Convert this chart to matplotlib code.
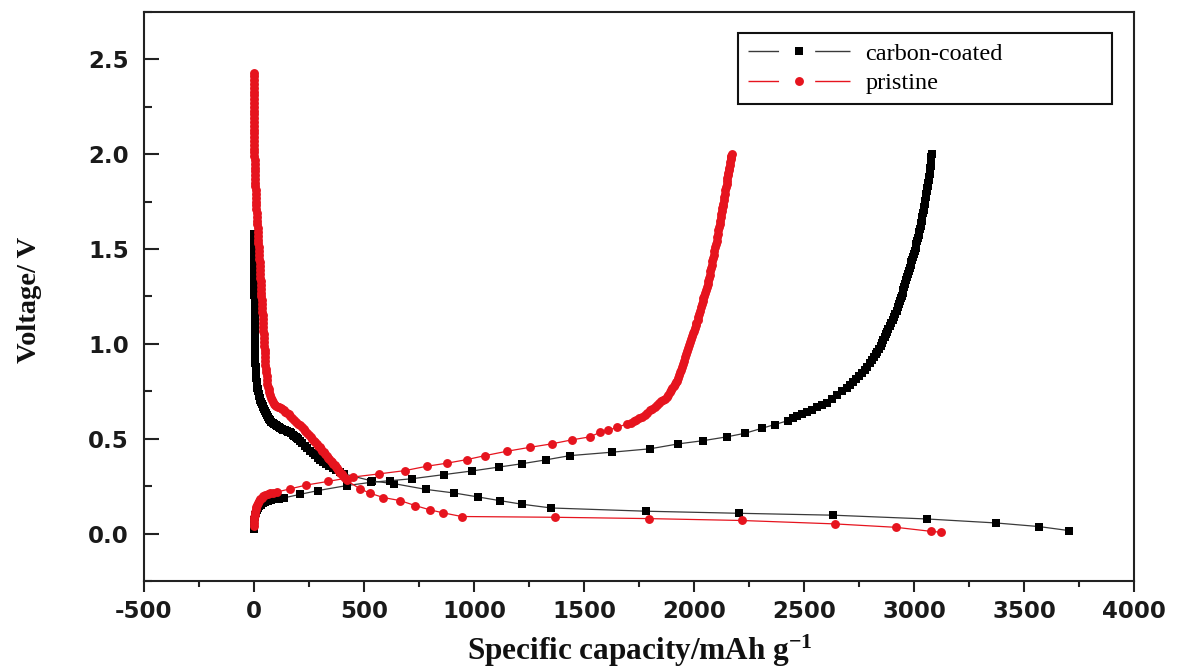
import matplotlib
matplotlib.use("Agg")
import matplotlib.pyplot as plt
from matplotlib.lines import Line2D
from matplotlib.ticker import MultipleLocator

# ---------------- data ----------------
# each series: list of (specific capacity / mAh g-1, voltage / V) points
series_names = ["carbon-coated", "pristine"]

carbon_discharge = [
    (0, 1.58), (0, 1.56), (0, 1.54), (0, 1.52), (0, 1.50), (1, 1.48), (1, 1.46), (1, 1.44), (1, 1.42),
    (1, 1.40), (1, 1.38), (2, 1.36), (2, 1.34), (2, 1.32), (2, 1.30), (2, 1.28), (2, 1.26), (3, 1.24),
    (3, 1.22), (3, 1.20), (3, 1.18), (3, 1.16), (3, 1.14), (4, 1.12), (4, 1.10), (4, 1.08), (4, 1.06),
    (4, 1.04), (4, 1.02), (5, 1.00), (5, 0.98), (5, 0.96), (5, 0.94), (6, 0.92), (6, 0.90), (7, 0.88),
    (8, 0.86), (9, 0.84), (10, 0.82), (12, 0.80), (14, 0.785), (15, 0.77), (17, 0.76), (19, 0.75),
    (21, 0.737), (23, 0.726), (26, 0.715), (29, 0.705), (32, 0.695), (35, 0.685), (39, 0.675),
    (42, 0.665), (46, 0.655), (50, 0.645), (54, 0.635), (58, 0.625), (63, 0.615), (68, 0.606),
    (73, 0.598), (79, 0.59), (85, 0.582), (91, 0.576), (98, 0.570), (105, 0.565), (112, 0.560),
    (119, 0.556), (127, 0.552), (134, 0.548), (142, 0.545), (149, 0.541), (156, 0.538), (163, 0.533),
    (170, 0.528), (177, 0.522), (183, 0.516), (189, 0.51), (195, 0.503), (201, 0.497), (207, 0.490),
    (219, 0.477), (231, 0.464), (243, 0.451), (255, 0.438), (266, 0.425), (277, 0.412), (289, 0.399),
    (301, 0.387), (314, 0.376), (328, 0.366), (343, 0.355), (358, 0.345), (373, 0.335), (389, 0.325),
    (408, 0.315), (537, 0.277), (638, 0.263), (781, 0.233), (910, 0.214), (1019, 0.193),
    (1116, 0.174), (1217, 0.155), (1351, 0.135), (1780, 0.118), (2205, 0.107), (2632, 0.097),
    (3059, 0.077), (3373, 0.056), (3568, 0.037), (3703, 0.016),
]

carbon_charge = [
    (0, 0.025), (0, 0.04), (1, 0.055), (2, 0.07), (4, 0.085), (6, 0.098), (9, 0.11), (13, 0.122),
    (18, 0.133), (24, 0.143), (31, 0.152), (40, 0.16), (50, 0.166), (62, 0.172), (76, 0.177),
    (95, 0.181), (115, 0.184), (135, 0.188), (210, 0.207), (292, 0.227), (421, 0.253), (530, 0.27),
    (620, 0.279), (717, 0.289), (862, 0.311), (990, 0.33), (1115, 0.351), (1216, 0.368),
    (1328, 0.389), (1436, 0.411), (1626, 0.429), (1800, 0.447), (1929, 0.473), (2042, 0.49),
    (2149, 0.51), (2232, 0.529), (2308, 0.555), (2368, 0.575), (2429, 0.596), (2450, 0.607),
    (2470, 0.62), (2491, 0.63), (2512, 0.64), (2535, 0.652), (2558, 0.665), (2580, 0.677),
    (2603, 0.69), (2627, 0.71), (2650, 0.73), (2672, 0.75), (2694, 0.77), (2708, 0.785),
    (2722, 0.80), (2736, 0.815), (2750, 0.83), (2763, 0.845), (2775, 0.86), (2788, 0.88),
    (2800, 0.90), (2809, 0.915), (2818, 0.93), (2826, 0.945), (2833, 0.96), (2841, 0.975),
    (2848, 0.99), (2854, 1.005), (2860, 1.02), (2866, 1.035), (2872, 1.05), (2878, 1.065),
    (2884, 1.08), (2890, 1.095), (2896, 1.11), (2903, 1.125), (2909, 1.14), (2915, 1.158),
    (2921, 1.176), (2926, 1.193), (2931, 1.21), (2936, 1.225), (2940, 1.24), (2944, 1.255),
    (2948, 1.27), (2952, 1.285), (2956, 1.30), (2961, 1.318), (2965, 1.335), (2970, 1.352),
    (2974, 1.37), (2978, 1.385), (2981, 1.40), (2985, 1.415), (2988, 1.43), (2992, 1.445),
    (2996, 1.46), (3000, 1.475), (3003, 1.49), (3007, 1.508), (3011, 1.525), (3015, 1.543),
    (3019, 1.56), (3022, 1.575), (3024, 1.59), (3027, 1.605), (3030, 1.62), (3033, 1.635),
    (3035, 1.65), (3038, 1.67), (3041, 1.69), (3044, 1.705), (3046, 1.72), (3048, 1.738),
    (3050, 1.756), (3053, 1.773), (3055, 1.79), (3058, 1.805), (3060, 1.82), (3063, 1.835),
    (3065, 1.85), (3067, 1.865), (3069, 1.88), (3071, 1.895), (3073, 1.91), (3074, 1.925),
    (3075, 1.94), (3077, 1.955), (3078, 1.97), (3079, 1.985), (3080, 2.00),
]

pristine_discharge = [
    (0, 2.43), (0, 2.41), (0, 2.39), (0, 2.37), (0, 2.35), (0, 2.33), (0, 2.31), (0, 2.29), (0, 2.27),
    (0, 2.25), (0, 2.23), (1, 2.21), (1, 2.19), (1, 2.17), (1, 2.15), (1, 2.13), (1, 2.11), (1, 2.09),
    (1, 2.07), (2, 2.05), (2, 2.03), (2, 2.01), (2, 1.99), (3, 1.97), (3, 1.95), (4, 1.93), (4, 1.91),
    (5, 1.89), (5, 1.87), (6, 1.85), (6, 1.83), (7, 1.81), (8, 1.79), (9, 1.77), (9, 1.75), (10, 1.73),
    (11, 1.71), (12, 1.69), (13, 1.67), (14, 1.65), (15, 1.63), (16, 1.61), (17, 1.59), (18, 1.57),
    (19, 1.55), (20, 1.53), (21, 1.51), (22, 1.49), (23, 1.47), (24, 1.45), (25, 1.43), (26, 1.41),
    (27, 1.39), (28, 1.37), (29, 1.35), (30, 1.33), (31, 1.31), (32, 1.29), (33, 1.27), (34, 1.25),
    (35, 1.23), (36, 1.21), (37, 1.19), (38, 1.17), (39, 1.15), (40, 1.13), (41, 1.11), (42, 1.09),
    (43, 1.07), (44, 1.05), (45, 1.03), (46, 1.01), (47, 0.99), (48, 0.97), (49, 0.95), (50, 0.93),
    (51, 0.91), (52, 0.89), (54, 0.87), (55, 0.85), (57, 0.83), (59, 0.81), (61, 0.79), (63, 0.775),
    (66, 0.76), (69, 0.745), (72, 0.73), (76, 0.717), (80, 0.705), (85, 0.695), (90, 0.685),
    (96, 0.678), (102, 0.672), (108, 0.668), (115, 0.665), (121, 0.66), (128, 0.655), (135, 0.649),
    (142, 0.643), (149, 0.636), (157, 0.628), (165, 0.619), (173, 0.61), (181, 0.6), (190, 0.59),
    (199, 0.58), (209, 0.57), (218, 0.56), (226, 0.55), (234, 0.54), (242, 0.53), (250, 0.52),
    (257, 0.51), (264, 0.50), (271, 0.49), (278, 0.481), (285, 0.473), (292, 0.464), (298, 0.455),
    (305, 0.446), (311, 0.437), (318, 0.428), (324, 0.419), (331, 0.41), (337, 0.401), (343, 0.392),
    (349, 0.384), (355, 0.376), (360, 0.368), (366, 0.36), (371, 0.352), (377, 0.344), (382, 0.336),
    (388, 0.328), (393, 0.32), (399, 0.312), (404, 0.305), (412, 0.292), (421, 0.28), (482, 0.236),
    (527, 0.213), (588, 0.19), (664, 0.174), (732, 0.148), (800, 0.125), (861, 0.109), (944, 0.09),
    (1368, 0.086), (1794, 0.079), (2218, 0.069), (2641, 0.051), (2918, 0.033), (3076, 0.012),
    (3123, 0.007),
]

pristine_charge = [
    (0, 0.04), (0, 0.055), (1, 0.07), (2, 0.085), (3, 0.10), (5, 0.115), (7, 0.128), (10, 0.14),
    (13, 0.152), (17, 0.163), (22, 0.173), (28, 0.182), (35, 0.19), (43, 0.197), (52, 0.203),
    (62, 0.208), (73, 0.212), (86, 0.215), (103, 0.219), (162, 0.235), (238, 0.256), (336, 0.275),
    (449, 0.298), (570, 0.315), (686, 0.332), (785, 0.355), (876, 0.371), (967, 0.39), (1050, 0.411),
    (1149, 0.434), (1255, 0.455), (1353, 0.473), (1444, 0.494), (1527, 0.51), (1573, 0.534),
    (1610, 0.545), (1650, 0.56), (1694, 0.578), (1712, 0.585), (1725, 0.592), (1738, 0.6),
    (1750, 0.607), (1763, 0.616), (1775, 0.625), (1788, 0.637), (1800, 0.649), (1811, 0.658),
    (1822, 0.668), (1832, 0.678), (1842, 0.688), (1851, 0.697), (1860, 0.705), (1868, 0.712),
    (1876, 0.72), (1883, 0.732), (1890, 0.745), (1896, 0.757), (1902, 0.77), (1907, 0.78),
    (1912, 0.79), (1917, 0.8), (1921, 0.807), (1926, 0.821), (1930, 0.835), (1935, 0.85),
    (1939, 0.865), (1944, 0.88), (1948, 0.895), (1953, 0.912), (1957, 0.93), (1962, 0.948),
    (1967, 0.965), (1972, 0.98), (1976, 0.995), (1981, 1.01), (1985, 1.025), (1990, 1.04),
    (1994, 1.055), (1999, 1.07), (2003, 1.085), (2007, 1.098), (2011, 1.11), (2016, 1.125),
    (2020, 1.14), (2024, 1.158), (2028, 1.175), (2032, 1.193), (2036, 1.21), (2040, 1.225),
    (2043, 1.24), (2047, 1.255), (2050, 1.27), (2054, 1.285), (2058, 1.30), (2062, 1.315),
    (2065, 1.33), (2068, 1.348), (2071, 1.365), (2074, 1.383), (2077, 1.40), (2080, 1.418),
    (2083, 1.435), (2086, 1.453), (2089, 1.47), (2093, 1.49), (2096, 1.51), (2100, 1.528),
    (2103, 1.545), (2106, 1.563), (2108, 1.58), (2111, 1.598), (2113, 1.615), (2116, 1.633),
    (2118, 1.65), (2121, 1.668), (2123, 1.685), (2126, 1.7), (2128, 1.715), (2131, 1.728),
    (2133, 1.74), (2136, 1.758), (2138, 1.775), (2141, 1.793), (2143, 1.81), (2146, 1.828),
    (2148, 1.845), (2150, 1.86), (2152, 1.875), (2154, 1.888), (2156, 1.9), (2158, 1.915),
    (2160, 1.93), (2162, 1.945), (2164, 1.96), (2166, 1.973), (2168, 1.985), (2170, 1.993),
    (2171, 2.0),
]

x_ticks = [-500, 0, 500, 1000, 1500, 2000, 2500, 3000, 3500, 4000]
y_ticks = [0.0, 0.5, 1.0, 1.5, 2.0, 2.5]

# ---------------- style ----------------
plt.rcParams["mathtext.fontset"] = "custom"
plt.rcParams["mathtext.rm"] = "Liberation Serif:bold"
plt.rcParams["mathtext.bf"] = "Liberation Serif:bold"
plt.rcParams["mathtext.it"] = "Liberation Serif:bold"
plt.rcParams["lines.scale_dashes"] = False

BLACK = "#000000"
BLACK_LINE = "#3a3a3a"
RED = "#e6141e"


def split(points):
    return [p[0] for p in points], [p[1] for p in points]


fig = plt.figure(figsize=(11.82, 6.70), dpi=100)
ax = fig.add_axes([144 / 1182, 89 / 670, 990 / 1182, 569 / 670])

# carbon-coated (black squares)
for pts in (carbon_discharge, carbon_charge):
    cap, v = split(pts)
    ax.plot(cap, v, color=BLACK_LINE, lw=0.9, marker="s", ms=5.8,
            mfc=BLACK, mec=BLACK, mew=0, zorder=3)
# pristine (red circles)
for pts in (pristine_discharge, pristine_charge):
    cap, v = split(pts)
    ax.plot(cap, v, color=RED, lw=0.9, marker="o", ms=6.4,
            mfc=RED, mec=RED, mew=0, zorder=4)

ax.set_xlim(-500, 4000)
ax.set_ylim(-0.25, 2.75)
ax.set_xticks(x_ticks)
ax.set_yticks(y_ticks)
ax.set_xticklabels([str(t) for t in x_ticks])
ax.set_yticklabels([f"{t:.1f}" for t in y_ticks])
ax.xaxis.set_minor_locator(MultipleLocator(250))
ax.yaxis.set_minor_locator(MultipleLocator(0.25))

for s in ax.spines.values():
    s.set_linewidth(1.5)
    s.set_color("#222222")

ax.tick_params(axis="x", which="major", direction="out", length=8, width=1.5, pad=6,
               labelsize=16.5, colors="#222222")
ax.tick_params(axis="x", which="minor", direction="out", length=4.5, width=1.5, colors="#222222")
ax.tick_params(axis="y", which="major", direction="in", length=11, width=1.5, pad=11,
               labelsize=16.5, colors="#222222")
ax.tick_params(axis="y", which="minor", direction="in", length=6, width=1.5, colors="#222222")
for lab in ax.get_xticklabels() + ax.get_yticklabels():
    lab.set_fontfamily("DejaVu Sans")
    lab.set_fontweight("bold")
    lab.set_color("#1a1a1a")

fig.text(640 / 1182, 1 - 651 / 670, r"Specific capacity/mAh g$^{-1}$",
         ha="center", va="center", fontsize=22.5, fontweight="bold",
         family="Liberation Serif", color="#111111")
fig.text(30 / 1182, 1 - 300 / 670, "Voltage/ V", rotation=90,
         ha="center", va="center", fontsize=20.5, fontweight="bold",
         family="Liberation Serif", color="#111111")

# legend: line broken around the marker, like the original
dash = (0, (22, 26, 32, 2))
h_carbon = (Line2D([], [], color=BLACK_LINE, lw=1.0, linestyle=dash),
            Line2D([], [], color=BLACK, marker="s", ms=5.8, mew=0, ls="none"))
h_pristine = (Line2D([], [], color=RED, lw=1.0, linestyle=dash),
              Line2D([], [], color=RED, marker="o", ms=6.4, mew=0, ls="none"))
leg = ax.legend([h_carbon, h_pristine], series_names,
                loc="upper left", bbox_to_anchor=(0.600, 0.824, 0.378, 0.139),
                mode="expand", borderaxespad=0, numpoints=1,
                handlelength=4.2, handletextpad=0.65, labelspacing=0.3,
                borderpad=0.4, fancybox=False, framealpha=1,
                prop={"family": "Liberation Serif", "size": 17.5})
leg.get_frame().set_edgecolor("#111111")
leg.get_frame().set_linewidth(1.5)

fig.savefig("out.png", dpi=100)
